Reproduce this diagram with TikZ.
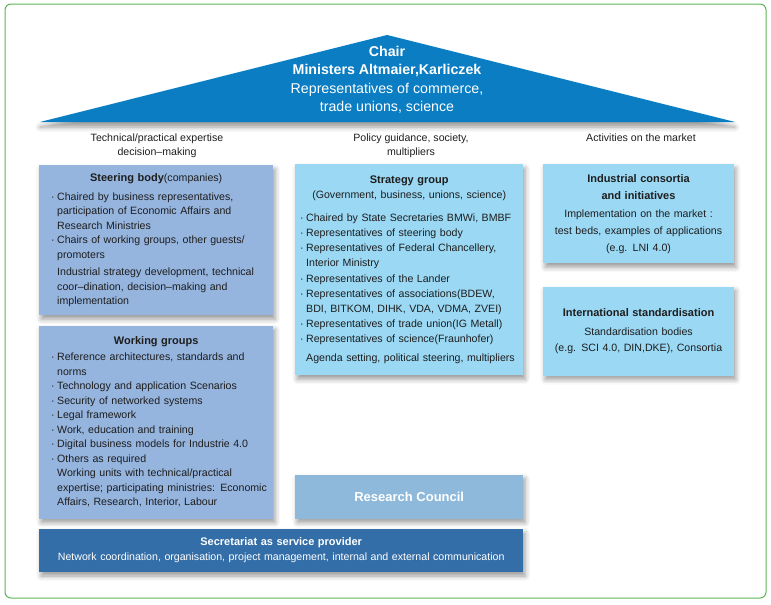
\documentclass[tikz,border=0pt]{standalone}
\usepackage{fontspec}
\setmainfont{Liberation Sans}
\usetikzlibrary{positioning,shadows.blur}
\definecolor{roofblue}{RGB}{11,125,194}
\definecolor{steelbox}{RGB}{149,180,222}
\definecolor{skybox}{RGB}{154,216,244}
\definecolor{councilbox}{RGB}{142,185,218}
\definecolor{secrbox}{RGB}{52,110,168}
\definecolor{framegreen}{RGB}{92,182,84}
\definecolor{inktext}{RGB}{30,30,30}
\newcommand{\blt}{\makebox[6pt][l]{·}}
\newcommand{\ind}{\hspace*{6pt}}
\newcommand{\lblt}{\hspace*{6pt}\blt}
\newcommand{\lind}{\hspace*{12pt}}
\newcommand{\boxtitle}[1]{\hspace*{\fill}#1\hspace*{\fill}\mbox{}}

\begin{document}
\begin{tikzpicture}[
      x=1pt, y=-1pt,
      node distance=10pt,
      panel/.style={rectangle, inner ysep=0pt, text=inktext,
        font=\fontsize{10.6}{14.5}\selectfont,
        blur shadow={shadow xshift=2pt, shadow yshift=-4pt, shadow blur radius=5pt, shadow opacity=40}},
      leftpanel/.style={panel, fill=steelbox, align=left, inner xsep=6pt, text width=222pt, minimum width=234pt},
      skypanel/.style={panel, fill=skybox},
      colnote/.style={align=center, text=inktext, font=\fontsize{10.6}{14.5}\selectfont}
    ]
    \useasboundingbox (0,0) rectangle (771,605);

    % outer frame
    \draw[framegreen, line width=1pt, rounded corners=6pt] (5,4) rectangle (766,598);

    % roof
    \coordinate (eaveL) at (40,122);
    \coordinate (apex) at (387,35);
    \coordinate (eaveR) at (735,122);
    \fill[roofblue, blur shadow={shadow xshift=0pt, shadow yshift=-5pt, shadow blur radius=5pt, shadow opacity=40}]
      (eaveL) -- (apex) -- (eaveR) -- cycle;
    \node[align=center, text=white, font=\fontsize{14.2}{18.5}\selectfont] (chair) at (387,80)
      {\textbf{Chair}\\ \textbf{Ministers Altmaier,Karliczek}\\ Representatives of commerce,\\ trade unions, science};

    % column headings
    \node[colnote] (coltech) at (157,146) {Technical/practical expertise\\ decision–making};
    \node[colnote] (colpolicy) at (411,146) {Policy guidance, society,\\ multipliers};
    \node[colnote] (colmarket) at (641,138) {Activities on the market};

    % left column
    \node[leftpanel, minimum height=150pt, anchor=north west] (steer) at (39,165) {%
      \boxtitle{{\fontsize{11}{14}\selectfont\bfseries Steering body}(companies)}\\[4.5pt]
      \lblt Chaired by business representatives,\\
      \lind participation of Economic Affairs and\\
      \lind Research Ministries\\
      \lblt Chairs of working groups, other guests/\\
      \lind promoters\\[3pt]
      \lind Industrial strategy development, technical\\
      \lind coor–dination, decision–making and\\
      \lind implementation};

    \node[leftpanel, minimum height=193pt, below=of steer] (work) {%
      \boxtitle{{\fontsize{11}{14}\selectfont\bfseries Working groups}}\\[1.5pt]
      \lblt Reference architectures, standards and\\
      \lind norms\\
      \lblt Technology and application Scenarios\\
      \lblt Security of networked systems\\
      \lblt Legal framework\\
      \lblt Work, education and training\\
      \lblt Digital business models for Industrie 4.0\\
      \lblt Others as required\\
      \lind Working units with technical/practical\\
      \lind expertise; participating ministries: Economic\\
      \lind Affairs, Research, Interior, Labour};

    % middle column
    \node[skypanel, align=left, inner xsep=5pt, text width=218pt, minimum width=228pt, minimum height=211pt,
      font=\fontsize{10.6}{15.2}\selectfont, anchor=north west] (strat) at (295,164) {%
      \boxtitle{{\fontsize{11}{14}\selectfont\bfseries Strategy group}}\\[-1pt]
      \boxtitle{(Government, business, unions, science)}\\[8pt]
      \blt Chaired by State Secretaries BMWi, BMBF\\
      \blt Representatives of steering body\\
      \blt Representatives of Federal Chancellery,\\
      \ind Interior Ministry\\
      \blt Representatives of the Lander\\
      \blt Representatives of associations(BDEW,\\
      \ind BDI, BITKOM, DIHK, VDA, VDMA, ZVEI)\\
      \blt Representatives of trade union(IG Metall)\\
      \blt Representatives of science(Fraunhofer)\\[3pt]
      \ind Agenda setting, political steering, multipliers};

    \node[panel, fill=councilbox, minimum width=228pt, minimum height=44pt, text=white,
      font=\fontsize{13}{16}\selectfont\bfseries, anchor=south west] (research) at (strat.west |- work.south)
      {Research Council};

    % right column
    \node[skypanel, align=center, text width=184pt, minimum width=188pt, minimum height=99pt,
      font=\fontsize{10.6}{17}\selectfont, anchor=north west] (consortia) at (543,164) {%
      {\fontsize{11}{15}\selectfont\bfseries Industrial consortia\\ and initiatives}\\[1pt]
      Implementation on the market :\\
      test beds, examples of applications\\
      (e.g. LNI 4.0)};

    \node[skypanel, align=center, text width=184pt, minimum width=188pt, minimum height=89pt,
      font=\fontsize{10.6}{16}\selectfont, below=23pt of consortia] (intl) {%
      {\fontsize{11}{15}\selectfont\bfseries International standardisation}\\[3pt]
      Standardisation bodies\\
      (e.g. SCI 4.0, DIN,DKE), Consortia};

    % bottom bar
    \node[panel, fill=secrbox, align=center, text=white, text width=476pt, minimum width=484pt, minimum height=43pt,
      font=\fontsize{10.6}{15}\selectfont, below right=10pt and 0pt of work.south west] (secr) {%
      {\fontsize{11}{15}\selectfont\bfseries Secretariat as service provider}\\
      Network coordination, organisation, project management, internal and external communication};

  \end{tikzpicture}
\end{document}
